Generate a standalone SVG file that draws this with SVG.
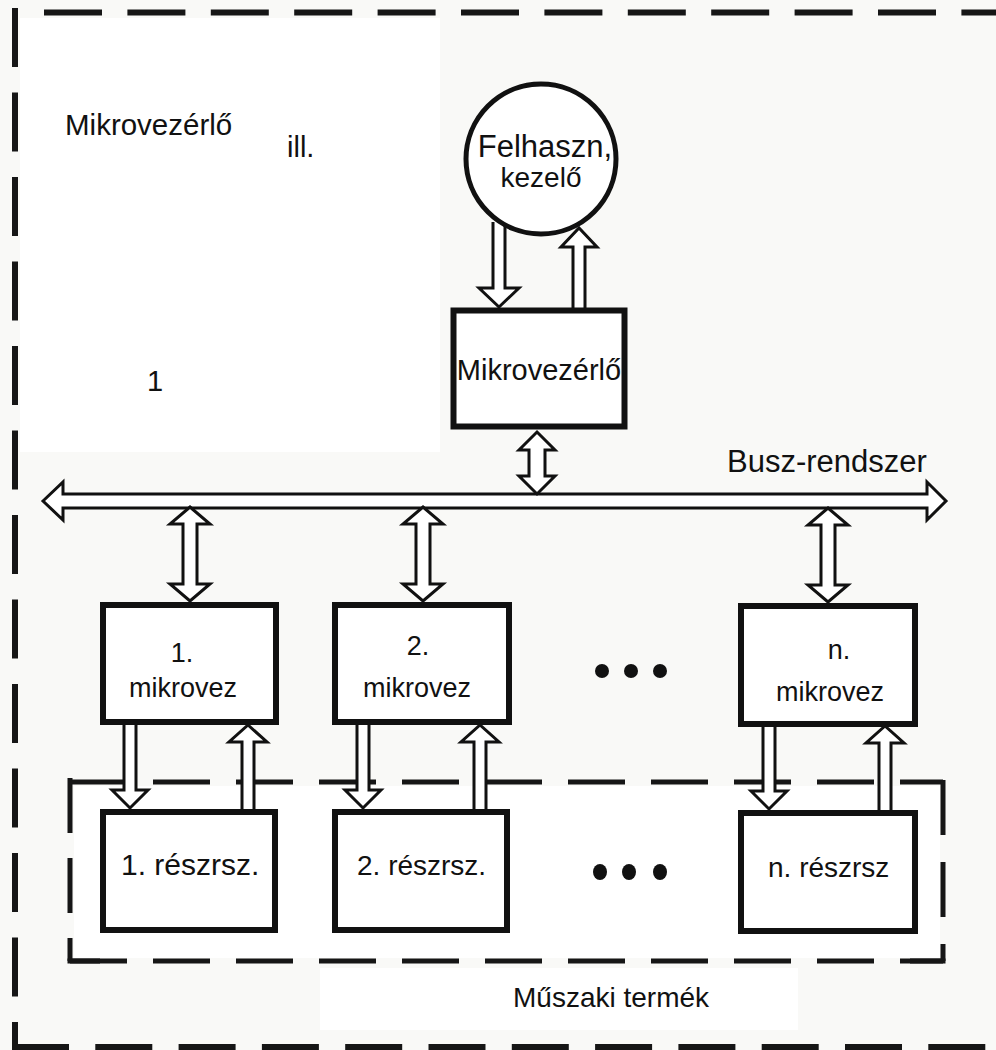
<svg xmlns="http://www.w3.org/2000/svg" width="996" height="1050" viewBox="0 0 996 1050">
  <style>
    .lbl { font-family: "Liberation Sans", Arial, sans-serif; fill: #111; }
    .box { fill: #fff; stroke: #111; stroke-width: 6; }
    .arr { fill: #fff; stroke: #111; stroke-width: 3; stroke-linejoin: miter; }
    .outer { stroke: #161616; stroke-width: 6; fill: none; }
    .inner { stroke: #161616; stroke-width: 5; fill: none; }
    .dot { fill: #111; }
  </style>

  <!-- paper background -->
  <rect x="0" y="0" width="996" height="1050" fill="#f9f9f7"/>
  <rect x="20" y="18" width="420" height="434" fill="#ffffff"/>
  <rect x="74" y="786" width="866" height="172" fill="#ffffff"/>
  <rect x="320" y="968" width="478" height="62" fill="#ffffff"/>

  <!-- outer boundary: technical product -->
  <g id="product-boundary">
    <line class="outer" x1="44" y1="12.5" x2="996" y2="12.5" stroke-dasharray="58 25.4"/>
    <line class="outer" x1="15" y1="8" x2="15" y2="1050" stroke-dasharray="59 25.5"/>
    <line class="outer" x1="12" y1="1047" x2="996" y2="1047" stroke-dasharray="57 26.3"/>
  </g>

  <!-- inner boundary around the subsystems -->
  <g id="subsystem-boundary">
    <line class="inner" x1="70" y1="782" x2="943" y2="782" stroke-dasharray="57 26"/>
    <line class="inner" x1="70" y1="961" x2="943" y2="961" stroke-dasharray="57 26"/>
    <line class="inner" x1="70" y1="778" x2="70" y2="961" stroke-dasharray="55 25"/>
    <line class="inner" x1="943" y1="780" x2="943" y2="961" stroke-dasharray="55 27"/>
    <line class="inner" x1="67.5" y1="961" x2="100" y2="961"/>
    <line class="inner" x1="910" y1="961" x2="945.5" y2="961"/>
  </g>

  <!-- connectors -->
  <g id="connectors">
    <!-- bus system -->
    <polygon class="arr" points="43,501 63,482 63,494 927,494 927,482 946,501 927,520 927,508 63,508 63,520"/>
    <!-- controller <-> bus -->
    <polygon class="arr" points="537,432 555,450 545,450 545,476 555,476 537,494 519,476 529,476 529,450 519,450"/>
    <!-- bus <-> local controllers -->
    <polygon class="arr" points="190,507 210,524 197,524 197,584 210,584 190,601 170,584 183,584 183,524 170,524"/>
    <polygon class="arr" points="423,507 443,524 430,524 430,584 443,584 423,601 403,584 416,584 416,524 403,524"/>
    <polygon class="arr" points="828,508 848,525 835,525 835,585 848,585 828,602 808,585 821,585 821,525 808,525"/>
    <!-- operator <-> controller -->
    <path class="arr" d="M493,222 L493,288 L479,288 L499,307 L519,288 L505,288 L505,222"/>
    <path class="arr" d="M573,312 L573,247 L561,247 L579,228 L597,247 L585,247 L585,312"/>
    <!-- local controllers <-> subsystems -->
    <path class="arr" d="M124,720 L124,790 L112,790 L130,808 L148,790 L136,790 L136,720"/>
    <path class="arr" d="M242,812 L242,742 L229,742 L248,725 L267,742 L254,742 L254,812"/>
    <path class="arr" d="M357,720 L357,790 L345,790 L363,808 L381,790 L369,790 L369,720"/>
    <path class="arr" d="M474,812 L474,742 L461,742 L480,725 L499,742 L486,742 L486,812"/>
    <path class="arr" d="M763,722 L763,791 L751,791 L769,809 L787,791 L775,791 L775,722"/>
    <path class="arr" d="M879,813 L879,743 L866,743 L885,726 L904,743 L891,743 L891,813"/>
  </g>

  <!-- free labels -->
  <g id="title-labels">
    <text class="lbl" x="65" y="135" font-size="29.5">Mikrovezérlő</text>
    <text class="lbl" x="287" y="157" font-size="29">ill.</text>
    <text class="lbl" x="147" y="391" font-size="29">1</text>
    <text class="lbl" x="727" y="472" font-size="31">Busz-rendszer</text>
    <text class="lbl" x="513" y="1007" font-size="28">Műszaki termék</text>
  </g>

  <!-- operator -->
  <g id="operator">
    <circle cx="541" cy="159" r="75" fill="#fff" stroke="#111" stroke-width="5"/>
    <text class="lbl" x="545" y="157" font-size="31" text-anchor="middle">Felhaszn,</text>
    <text class="lbl" x="541" y="187" font-size="28" text-anchor="middle">kezelő</text>
  </g>

  <!-- main controller -->
  <g id="main-controller">
    <rect class="box" x="453.5" y="310.5" width="171" height="116" stroke-width="7"/>
    <text class="lbl" x="539" y="380" font-size="29" text-anchor="middle">Mikrovezérlő</text>
  </g>

  <!-- local controllers -->
  <g id="controller-1">
    <rect class="box" x="103" y="605" width="173" height="117"/>
    <text class="lbl" x="182" y="662" font-size="27" text-anchor="middle">1.</text>
    <text class="lbl" x="183" y="697" font-size="27" text-anchor="middle">mikrovez</text>
  </g>
  <g id="controller-2">
    <rect class="box" x="335" y="605" width="174" height="117"/>
    <text class="lbl" x="418" y="655" font-size="27" text-anchor="middle">2.</text>
    <text class="lbl" x="417" y="697" font-size="27" text-anchor="middle">mikrovez</text>
  </g>
  <g id="controller-ellipsis">
    <circle class="dot" cx="602" cy="671" r="7"/>
    <circle class="dot" cx="631" cy="671" r="7"/>
    <circle class="dot" cx="660" cy="671" r="7"/>
  </g>
  <g id="controller-n">
    <rect class="box" x="741" y="606" width="174" height="118"/>
    <text class="lbl" x="839" y="659" font-size="27" text-anchor="middle">n.</text>
    <text class="lbl" x="830" y="701" font-size="27" text-anchor="middle">mikrovez</text>
  </g>

  <!-- subsystems -->
  <g id="subsystem-1">
    <rect class="box" x="103" y="812" width="172" height="118"/>
    <text class="lbl" x="121" y="875" font-size="30">1. részrsz.</text>
  </g>
  <g id="subsystem-2">
    <rect class="box" x="335" y="812" width="172" height="118"/>
    <text class="lbl" x="357" y="875" font-size="28">2. részrsz.</text>
  </g>
  <g id="subsystem-ellipsis">
    <ellipse class="dot" cx="600" cy="872" rx="7" ry="8"/>
    <ellipse class="dot" cx="629" cy="872" rx="7" ry="8"/>
    <ellipse class="dot" cx="660" cy="872" rx="7" ry="8"/>
  </g>
  <g id="subsystem-n">
    <rect class="box" x="741" y="813" width="174" height="118"/>
    <text class="lbl" x="768" y="877" font-size="28">n. részrsz</text>
  </g>
</svg>
